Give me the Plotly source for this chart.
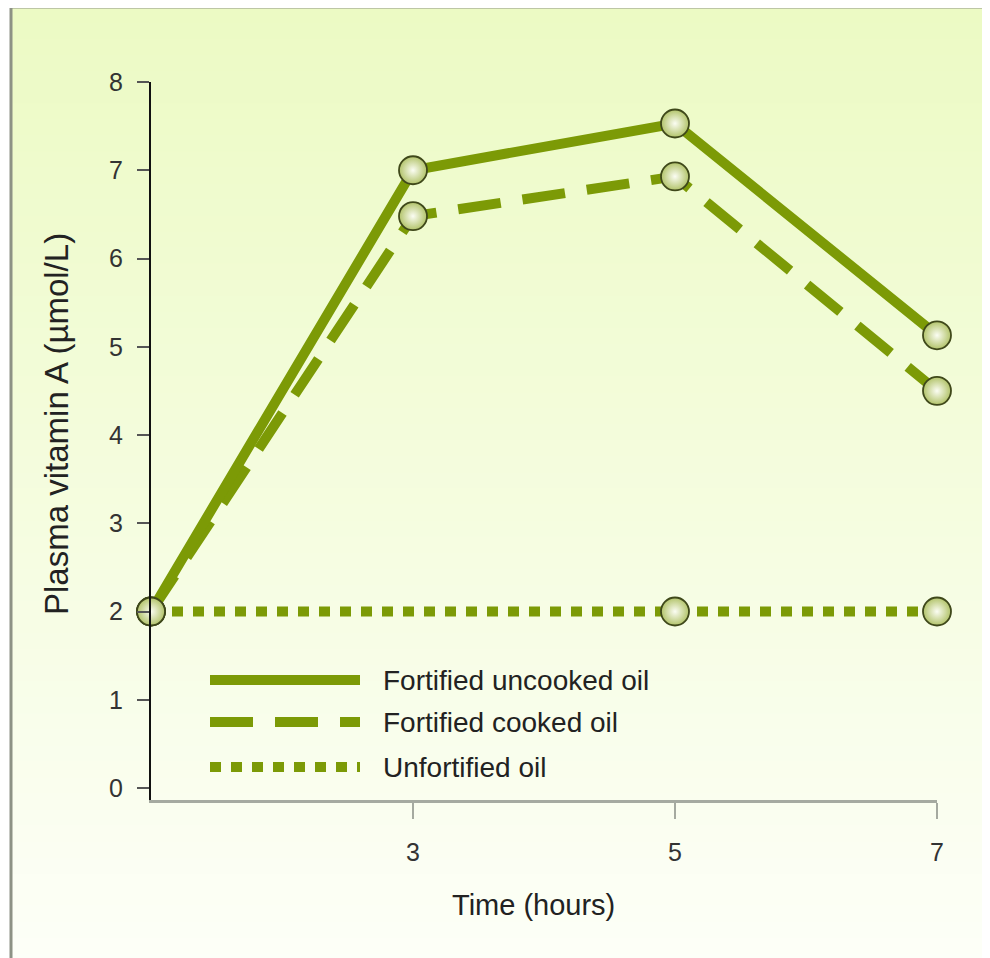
import plotly.graph_objects as go

# ---- data ----
time_uncooked = [1, 3, 5, 7]
vit_uncooked = [2.0, 7.0, 7.53, 5.13]
time_cooked = [1, 3, 5, 7]
vit_cooked = [2.0, 6.48, 6.93, 4.5]
time_unfort = [1, 5, 7]
vit_unfort = [2.0, 2.0, 2.0]
series_names = ["Fortified uncooked oil", "Fortified cooked oil", "Unfortified oil"]
x_ticks = [3, 5, 7]
y_ticks = [0, 1, 2, 3, 4, 5, 6, 7, 8]

# ---- style ----
W, H = 990, 958
OFF = 8  # page body margin
L, R, T, B = 151 - OFF, 937 - OFF, 82 - OFF, 800 - OFF
LINE = "#7c9a06"
FONT = "Liberation Sans, Arial"
DASH = "43px,22px"
DOT = "11px,10px"
LW = 10

def px2x(px):
    return (px - OFF - L) / (R - L)

def py2y(py):
    return (B - (py - OFF)) / (B - T)

marker = dict(size=28, color="#b2c36a", symbol="circle",
              gradient=dict(type="radial", color="#fbfdf3"),
              line=dict(color="#3f481a", width=1.8))

fig = go.Figure()
fig.add_trace(go.Scatter(x=time_unfort, y=vit_unfort, mode="lines+markers",
                         name=series_names[2], line=dict(color=LINE, width=LW, dash=DOT),
                         marker=marker, cliponaxis=False))
fig.add_trace(go.Scatter(x=time_cooked, y=vit_cooked, mode="lines+markers",
                         name=series_names[1], line=dict(color=LINE, width=LW, dash=DASH),
                         marker=marker, cliponaxis=False))
fig.add_trace(go.Scatter(x=time_uncooked, y=vit_uncooked, mode="lines+markers",
                         name=series_names[0], line=dict(color=LINE, width=LW),
                         marker=marker, cliponaxis=False))

shapes = []
# background gradient (bands)
top_c = (236, 250, 196)
bot_c = (253, 255, 248)
n = 60
y_top, y_bot = 7, 970
for i in range(n):
    t = i / (n - 1)
    c = tuple(round(top_c[k] + (bot_c[k] - top_c[k]) * t) for k in range(3))
    p0 = y_top + (y_bot - y_top) * i / n
    p1 = y_top + (y_bot - y_top) * (i + 1) / n + 1
    shapes.append(dict(type="rect", xref="paper", yref="paper", layer="below",
                       x0=px2x(11), x1=px2x(1010), y0=py2y(p1), y1=py2y(p0),
                       fillcolor="rgb(%d,%d,%d)" % c, line=dict(width=0)))
# frame (top and left)
shapes.append(dict(type="line", xref="paper", yref="paper", x0=px2x(10), x1=px2x(1010),
                   y0=py2y(7), y1=py2y(7), line=dict(color="#8d9285", width=3)))
shapes.append(dict(type="line", xref="paper", yref="paper", x0=px2x(11), x1=px2x(11),
                   y0=py2y(6), y1=py2y(975), line=dict(color="#8d9285", width=3)))

# legend samples
leg_y = [680, 722, 767]
leg_dash = ["solid", DASH, DOT]
for yy, d in zip(leg_y, leg_dash):
    shapes.append(dict(type="line", xref="paper", yref="paper",
                       x0=px2x(210), x1=px2x(360), y0=py2y(yy), y1=py2y(yy),
                       line=dict(color=LINE, width=LW, dash=d)))

annotations = []
for yy, name in zip(leg_y, series_names):
    annotations.append(dict(x=px2x(381), y=py2y(yy), xref="paper", yref="paper",
                            text=name, showarrow=False, xanchor="left", yanchor="middle",
                            font=dict(family=FONT, size=28, color="#222222")))
annotations.append(dict(x=px2x(533), y=py2y(905), xref="paper", yref="paper",
                        text="Time (hours)", showarrow=False, xanchor="center", yanchor="middle",
                        font=dict(family=FONT, size=29, color="#222222")))
annotations.append(dict(x=px2x(56), y=py2y(424), xref="paper", yref="paper",
                        text="Plasma vitamin A (µmol/L)", showarrow=False, textangle=-90,
                        xanchor="center", yanchor="middle",
                        font=dict(family=FONT, size=33, color="#222222")))

fig.update_layout(
    width=W, height=H,
    margin=dict(l=L, r=W - R, t=T, b=H - B),
    paper_bgcolor="white", plot_bgcolor="rgba(0,0,0,0)",
    showlegend=False,
    shapes=shapes, annotations=annotations,
    xaxis=dict(range=[1, 7], tickvals=x_ticks, showgrid=False, zeroline=False,
               showline=True, linecolor="#a5aaa0", linewidth=3,
               ticks="outside", ticklen=16, tickwidth=2, tickcolor="#a5aaa0",
               ticklabelstandoff=12,
               tickfont=dict(family=FONT, size=25, color="#333333")),
    yaxis=dict(range=[-0.136, 8], tickvals=y_ticks, showgrid=False, zeroline=False,
               showline=True, linecolor="#111111", linewidth=2,
               ticks="outside", ticklen=12, tickwidth=2, tickcolor="#555555",
               ticklabelstandoff=9,
               tickfont=dict(family=FONT, size=25, color="#333333")),
)

fig.write_html("out.html")
